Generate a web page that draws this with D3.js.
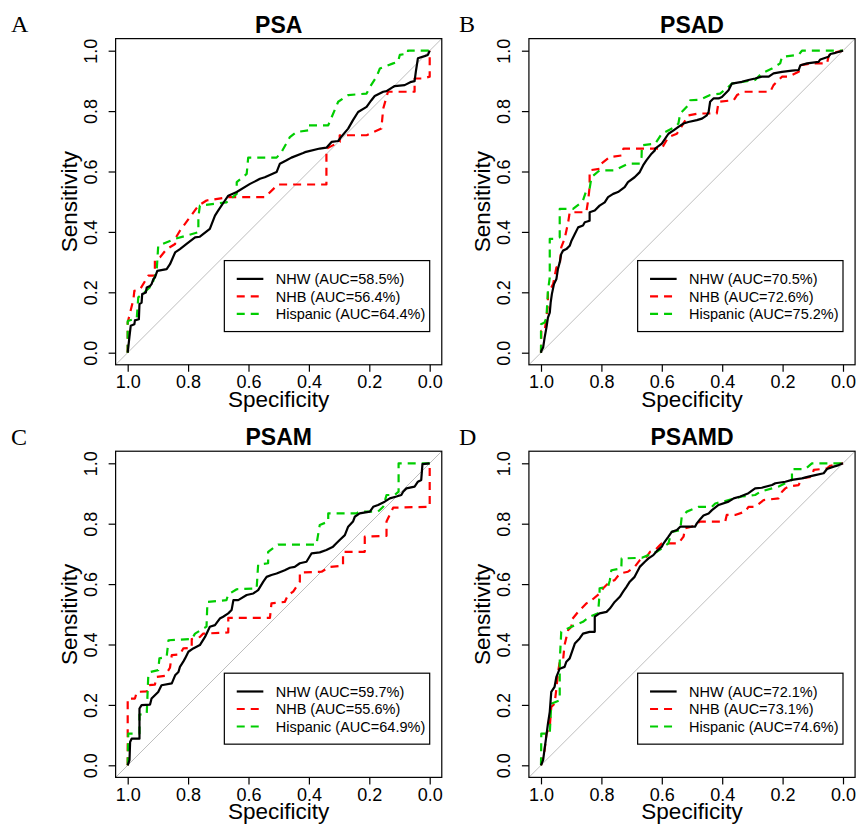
<!DOCTYPE html>
<html>
<head>
<meta charset="utf-8">
<script src="https://cdn.jsdelivr.net/npm/d3@7"></script>
<style>
body { margin: 0; background: #fff; }
svg text { font-family: "Liberation Sans", Arial, sans-serif; fill: #000; }
</style>
</head>
<body>
<script>
// Panel titles, letters, groups and AUCs
var titles = ["PSA", "PSAD", "PSAM", "PSAMD"];
var letters = ["A", "B", "C", "D"];
var groups = ["NHW", "NHB", "Hispanic"];
var aucPSA = [58.5, 56.4, 64.4];
var aucPSAD = [70.5, 72.6, 75.2];
var aucPSAM = [59.7, 55.6, 64.9];
var aucPSAMD = [72.1, 73.1, 74.6];
var tickValues = [0, 0.2, 0.4, 0.6, 0.8, 1.0];

// ROC points, [specificity, sensitivity]
var psaNHW = [[1,0],[0.994,0.055],[0.990,0.089],[0.978,0.094],[0.976,0.107],[0.963,0.111],[0.961,0.161],[0.954,0.166],[0.952,0.194],[0.940,0.199],[0.937,0.216],[0.926,0.221],[0.921,0.227],[0.915,0.244],[0.910,0.249],[0.902,0.271],[0.871,0.277],[0.860,0.293],[0.843,0.332],[0.827,0.343],[0.805,0.360],[0.777,0.382],[0.761,0.384],[0.728,0.410],[0.711,0.454],[0.700,0.471],[0.678,0.504],[0.667,0.520],[0.639,0.532],[0.595,0.559],[0.573,0.570],[0.562,0.576],[0.546,0.581],[0.507,0.598],[0.496,0.626],[0.474,0.637],[0.458,0.646],[0.419,0.661],[0.413,0.664],[0.364,0.676],[0.342,0.679],[0.325,0.698],[0.303,0.701],[0.292,0.716],[0.270,0.742],[0.254,0.770],[0.237,0.797],[0.209,0.814],[0.193,0.836],[0.182,0.850],[0.154,0.864],[0.143,0.866],[0.121,0.880],[0.116,0.883],[0.083,0.886],[0.061,0.897],[0.050,0.899],[0.046,0.930],[0.039,0.975],[0.017,0.982],[0.006,0.986],[0,1]];
var psaNHB = [[1,0],[1,0.100],[0.981,0.177],[0.978,0.205],[0.959,0.210],[0.932,0.255],[0.910,0.255],[0.910,0.305],[0.893,0.316],[0.871,0.343],[0.843,0.360],[0.843,0.377],[0.827,0.404],[0.766,0.487],[0.739,0.504],[0.667,0.515],[0.546,0.515],[0.502,0.557],[0.342,0.557],[0.342,0.676],[0.298,0.698],[0.298,0.720],[0.209,0.720],[0.160,0.742],[0.154,0.808],[0.138,0.864],[0.050,0.864],[0.050,0.908],[0.022,0.908],[0,0.914],[0,1]];
var psaHisp = [[1,0],[1,0.105],[0.970,0.114],[0.965,0.183],[0.921,0.221],[0.904,0.271],[0.899,0.354],[0.843,0.377],[0.766,0.399],[0.766,0.449],[0.761,0.487],[0.673,0.498],[0.639,0.526],[0.639,0.565],[0.606,0.592],[0.601,0.646],[0.507,0.646],[0.491,0.664],[0.469,0.703],[0.463,0.714],[0.441,0.731],[0.402,0.736],[0.402,0.753],[0.336,0.753],[0.325,0.779],[0.303,0.831],[0.270,0.853],[0.209,0.858],[0.198,0.880],[0.176,0.914],[0.165,0.941],[0.121,0.958],[0.105,0.963],[0.099,0.986],[0.072,0.991],[0.072,1],[0,1]];

var psadNHW = [[1,0],[0.999,0.006],[0.993,0.017],[0.988,0.050],[0.982,0.083],[0.977,0.116],[0.971,0.133],[0.968,0.166],[0.964,0.194],[0.957,0.227],[0.949,0.244],[0.944,0.277],[0.938,0.299],[0.933,0.327],[0.927,0.338],[0.916,0.343],[0.905,0.354],[0.899,0.371],[0.888,0.393],[0.877,0.415],[0.861,0.421],[0.855,0.432],[0.839,0.437],[0.839,0.465],[0.822,0.471],[0.806,0.487],[0.789,0.498],[0.778,0.515],[0.761,0.526],[0.745,0.532],[0.723,0.548],[0.712,0.565],[0.690,0.581],[0.673,0.598],[0.662,0.620],[0.651,0.637],[0.634,0.659],[0.623,0.670],[0.622,0.676],[0.600,0.692],[0.578,0.725],[0.561,0.736],[0.545,0.748],[0.528,0.759],[0.512,0.764],[0.484,0.770],[0.467,0.775],[0.451,0.786],[0.445,0.797],[0.440,0.831],[0.429,0.842],[0.412,0.842],[0.401,0.847],[0.379,0.869],[0.368,0.891],[0.335,0.897],[0.313,0.903],[0.291,0.908],[0.269,0.914],[0.246,0.914],[0.230,0.925],[0.202,0.930],[0.169,0.934],[0.147,0.936],[0.141,0.952],[0.119,0.958],[0.081,0.963],[0.075,0.971],[0.048,0.980],[0.042,0.989],[0.025,0.993],[0,1]];
var psadNHB = [[1,0],[0.999,0.072],[0.988,0.072],[0.982,0.116],[0.977,0.161],[0.977,0.205],[0.966,0.216],[0.960,0.227],[0.949,0.282],[0.938,0.288],[0.933,0.349],[0.922,0.377],[0.916,0.404],[0.910,0.432],[0.905,0.465],[0.850,0.465],[0.844,0.504],[0.839,0.548],[0.839,0.604],[0.806,0.609],[0.800,0.626],[0.772,0.648],[0.733,0.653],[0.727,0.676],[0.600,0.676],[0.594,0.687],[0.578,0.714],[0.550,0.725],[0.539,0.742],[0.512,0.786],[0.478,0.792],[0.418,0.792],[0.412,0.831],[0.362,0.836],[0.351,0.853],[0.329,0.864],[0.241,0.864],[0.230,0.886],[0.213,0.903],[0.202,0.914],[0.180,0.914],[0.147,0.930],[0.141,0.952],[0.103,0.958],[0.053,0.958],[0.048,0.980],[0.042,0.991],[0,1]];
var psadHisp = [[1,0],[1,0.094],[0.988,0.100],[0.982,0.116],[0.977,0.205],[0.971,0.249],[0.971,0.377],[0.949,0.377],[0.938,0.382],[0.938,0.476],[0.894,0.476],[0.872,0.493],[0.861,0.504],[0.850,0.537],[0.839,0.543],[0.833,0.581],[0.806,0.604],[0.756,0.604],[0.712,0.626],[0.673,0.626],[0.667,0.648],[0.666,0.687],[0.622,0.692],[0.600,0.725],[0.556,0.748],[0.545,0.759],[0.539,0.792],[0.512,0.820],[0.506,0.836],[0.473,0.838],[0.440,0.853],[0.407,0.858],[0.385,0.875],[0.368,0.891],[0.291,0.903],[0.269,0.925],[0.235,0.941],[0.208,0.958],[0.202,0.980],[0.147,0.986],[0.136,1],[0,1]];

var psamNHW = [[1,0],[0.994,0.017],[0.992,0.077],[0.987,0.088],[0.961,0.088],[0.961,0.188],[0.954,0.199],[0.926,0.201],[0.921,0.221],[0.910,0.232],[0.899,0.243],[0.888,0.265],[0.854,0.271],[0.843,0.298],[0.832,0.309],[0.827,0.326],[0.816,0.343],[0.810,0.354],[0.799,0.376],[0.783,0.387],[0.761,0.398],[0.744,0.425],[0.733,0.448],[0.728,0.459],[0.711,0.464],[0.695,0.486],[0.684,0.492],[0.667,0.503],[0.656,0.514],[0.650,0.547],[0.634,0.547],[0.606,0.564],[0.584,0.569],[0.568,0.580],[0.551,0.608],[0.540,0.624],[0.524,0.630],[0.507,0.635],[0.480,0.646],[0.463,0.654],[0.447,0.657],[0.430,0.669],[0.408,0.674],[0.391,0.702],[0.364,0.705],[0.342,0.713],[0.320,0.724],[0.309,0.735],[0.298,0.746],[0.281,0.762],[0.270,0.790],[0.254,0.807],[0.248,0.823],[0.232,0.834],[0.198,0.840],[0.187,0.856],[0.171,0.862],[0.149,0.873],[0.132,0.884],[0.110,0.890],[0.094,0.895],[0.088,0.906],[0.077,0.917],[0.050,0.923],[0.039,0.939],[0.028,0.945],[0.024,0.997],[0,1]];
var psamNHB = [[1,0],[1,0.221],[0.976,0.221],[0.970,0.243],[0.937,0.245],[0.932,0.265],[0.910,0.267],[0.904,0.293],[0.877,0.296],[0.860,0.323],[0.854,0.365],[0.827,0.367],[0.816,0.387],[0.788,0.389],[0.788,0.418],[0.761,0.425],[0.750,0.436],[0.667,0.440],[0.667,0.488],[0.529,0.488],[0.524,0.536],[0.480,0.541],[0.469,0.564],[0.452,0.575],[0.430,0.608],[0.430,0.638],[0.358,0.641],[0.331,0.657],[0.287,0.661],[0.287,0.707],[0.215,0.707],[0.215,0.757],[0.143,0.760],[0.143,0.807],[0.121,0.853],[0,0.856],[0,1]];
var psamHisp = [[1,0],[0.998,0.105],[0.961,0.105],[0.961,0.168],[0.937,0.171],[0.932,0.293],[0.926,0.309],[0.899,0.315],[0.895,0.354],[0.871,0.359],[0.865,0.414],[0.788,0.418],[0.777,0.436],[0.739,0.459],[0.736,0.541],[0.673,0.547],[0.667,0.566],[0.639,0.583],[0.573,0.586],[0.568,0.665],[0.535,0.669],[0.535,0.707],[0.502,0.731],[0.375,0.731],[0.364,0.796],[0.336,0.807],[0.336,0.834],[0.243,0.834],[0.232,0.840],[0.171,0.840],[0.154,0.856],[0.143,0.895],[0.116,0.895],[0.103,0.906],[0.103,1],[0,1]];

var psamdNHW = [[1,0],[0.993,0.017],[0.988,0.055],[0.982,0.099],[0.977,0.138],[0.971,0.177],[0.966,0.243],[0.955,0.260],[0.949,0.293],[0.938,0.320],[0.922,0.326],[0.916,0.343],[0.905,0.354],[0.888,0.403],[0.872,0.420],[0.861,0.436],[0.839,0.442],[0.822,0.442],[0.822,0.492],[0.806,0.503],[0.783,0.508],[0.772,0.519],[0.756,0.541],[0.739,0.558],[0.728,0.575],[0.717,0.591],[0.706,0.608],[0.690,0.624],[0.673,0.657],[0.656,0.674],[0.644,0.685],[0.628,0.696],[0.617,0.709],[0.600,0.724],[0.594,0.735],[0.578,0.757],[0.567,0.773],[0.550,0.779],[0.539,0.790],[0.490,0.790],[0.484,0.801],[0.473,0.815],[0.462,0.827],[0.445,0.834],[0.434,0.845],[0.412,0.862],[0.379,0.873],[0.362,0.884],[0.340,0.890],[0.313,0.901],[0.291,0.917],[0.269,0.919],[0.235,0.928],[0.224,0.934],[0.191,0.939],[0.169,0.945],[0.136,0.950],[0.114,0.956],[0.092,0.961],[0.064,0.967],[0.053,0.981],[0.031,0.989],[0.014,0.994],[0,1]];
var psamdNHB = [[1,0],[0.988,0.050],[0.982,0.105],[0.971,0.127],[0.966,0.193],[0.955,0.204],[0.949,0.254],[0.944,0.304],[0.938,0.343],[0.927,0.348],[0.922,0.398],[0.910,0.448],[0.899,0.459],[0.899,0.481],[0.877,0.508],[0.850,0.536],[0.839,0.541],[0.806,0.569],[0.794,0.586],[0.772,0.608],[0.756,0.613],[0.739,0.635],[0.712,0.641],[0.690,0.657],[0.672,0.680],[0.650,0.691],[0.639,0.707],[0.622,0.713],[0.606,0.729],[0.600,0.735],[0.545,0.735],[0.528,0.757],[0.523,0.785],[0.501,0.790],[0.484,0.801],[0.473,0.807],[0.390,0.807],[0.385,0.829],[0.357,0.829],[0.324,0.840],[0.313,0.856],[0.291,0.856],[0.263,0.878],[0.213,0.884],[0.202,0.906],[0.191,0.917],[0.180,0.923],[0.147,0.928],[0.136,0.950],[0.103,0.956],[0.097,0.978],[0.053,0.983],[0.042,0.992],[0,1]];
var psamdHisp = [[1,0],[0.999,0.105],[0.971,0.105],[0.966,0.204],[0.938,0.215],[0.938,0.343],[0.933,0.442],[0.899,0.459],[0.861,0.475],[0.839,0.492],[0.811,0.503],[0.806,0.569],[0.806,0.586],[0.778,0.591],[0.772,0.613],[0.767,0.646],[0.734,0.652],[0.733,0.685],[0.666,0.687],[0.644,0.696],[0.617,0.707],[0.600,0.718],[0.578,0.735],[0.572,0.757],[0.567,0.773],[0.539,0.779],[0.534,0.823],[0.517,0.840],[0.478,0.856],[0.434,0.856],[0.423,0.867],[0.379,0.878],[0.335,0.890],[0.291,0.895],[0.273,0.906],[0.235,0.917],[0.213,0.923],[0.169,0.945],[0.169,0.981],[0.125,0.981],[0.103,1],[0,1]];

var colors = ["#000000", "#ff0000", "#00cd00"];

// layout: plot origin (spec=1, sens=1) and letter x for each panel
var panels = [
  { title: titles[0], letter: letters[0], auc: aucPSA, curves: [psaNHW, psaNHB, psaHisp], left: 127.7, top: 50.7, letterX: 11 },
  { title: titles[1], letter: letters[1], auc: aucPSAD, curves: [psadNHW, psadNHB, psadHisp], left: 541, top: 50.7, letterX: 459 },
  { title: titles[2], letter: letters[2], auc: aucPSAM, curves: [psamNHW, psamNHB, psamHisp], left: 127.7, top: 463.3, letterX: 11 },
  { title: titles[3], letter: letters[3], auc: aucPSAMD, curves: [psamdNHW, psamdNHB, psamdHisp], left: 541, top: 463.3, letterX: 459 }
];

var size = 302;

var svg = d3.select("body")
  .append("svg")
  .attr("width", 858)
  .attr("height", 829)
  .style("background", "#fff");

var x = d3.scaleLinear().domain([1, 0]).range([0, size]);
var y = d3.scaleLinear().domain([0, 1]).range([size, 0]);

var line = d3.line()
  .x(function(d) { return x(d[0]); })
  .y(function(d) { return y(d[1]); });

panels.forEach(function(p) {
  var g = svg.append("g")
    .attr("transform", "translate(" + p.left + "," + p.top + ")");

  // panel letter
  svg.append("text")
    .attr("x", p.letterX)
    .attr("y", p.top - 18.5)
    .style("font-family", "'Liberation Serif', 'Times New Roman', serif")
    .style("font-size", "24px")
    .text(p.letter);

  // title
  g.append("text")
    .attr("x", x(0.5))
    .attr("y", y(1.04) - 6)
    .attr("text-anchor", "middle")
    .style("font-size", "23px")
    .style("font-weight", "bold")
    .text(p.title);

  // chance line
  g.append("line")
    .attr("x1", x(1.04)).attr("y1", y(-0.04))
    .attr("x2", x(-0.04)).attr("y2", y(1.04))
    .attr("stroke", "#bebebe")
    .attr("stroke-width", 1);

  // curves, NHW drawn last so it sits on top
  [1, 2, 0].forEach(function(i) {
    g.append("path")
      .attr("d", line(p.curves[i]))
      .attr("fill", "none")
      .attr("stroke", colors[i])
      .attr("stroke-width", 2.2)
      .attr("stroke-linejoin", "round")
      .attr("stroke-dasharray", i === 0 ? null : "8,6");
  });

  // box
  g.append("rect")
    .attr("x", x(1.04))
    .attr("y", y(1.04))
    .attr("width", x(-0.04) - x(1.04))
    .attr("height", y(-0.04) - y(1.04))
    .attr("fill", "none")
    .attr("stroke", "#000")
    .attr("stroke-width", 1.2);

  // x axis
  var xAxis = g.append("g")
    .attr("transform", "translate(0," + y(-0.04) + ")")
    .call(d3.axisBottom(x).tickValues(tickValues).tickSize(7).tickFormat(d3.format(".1f")));
  xAxis.select(".domain").remove();
  xAxis.selectAll("line").attr("stroke-width", 1.2);
  xAxis.selectAll("text")
    .attr("y", 23.5)
    .attr("dy", null)
    .style("font-size", "18px")
    .style("font-family", "'Liberation Sans', Arial, sans-serif")
    .attr("fill", "#000");

  // y axis
  var yAxis = g.append("g")
    .attr("transform", "translate(" + x(1.04) + ",0)")
    .call(d3.axisLeft(y).tickValues(tickValues).tickSize(7).tickFormat(d3.format(".1f")));
  yAxis.select(".domain").remove();
  yAxis.selectAll("line").attr("stroke-width", 1.2);
  yAxis.selectAll("text")
    .attr("x", 0)
    .attr("y", -18.6)
    .attr("dy", null)
    .attr("transform", "rotate(-90)")
    .attr("text-anchor", "middle")
    .style("font-size", "18px")
    .style("font-family", "'Liberation Sans', Arial, sans-serif")
    .attr("fill", "#000");

  // axis titles
  g.append("text")
    .attr("x", x(0.5))
    .attr("y", y(-0.04) + 42)
    .attr("text-anchor", "middle")
    .style("font-size", "22.5px")
    .text("Specificity");

  g.append("text")
    .attr("transform", "translate(" + (x(1.04) - 39) + "," + y(0.5) + ") rotate(-90)")
    .attr("text-anchor", "middle")
    .style("font-size", "22.5px")
    .text("Sensitivity");

  // legend
  var lx = x(0.68), ly = y(0.305);
  var legend = g.append("g").attr("transform", "translate(" + lx + "," + ly + ")");
  legend.append("rect")
    .attr("width", x(0) - lx)
    .attr("height", y(0.07) - ly)
    .attr("fill", "#fff")
    .attr("stroke", "#000")
    .attr("stroke-width", 1.2);
  groups.forEach(function(name, i) {
    var ry = 18.3 + i * 17.5;
    legend.append("line")
      .attr("x1", 12.4).attr("x2", 39)
      .attr("y1", ry).attr("y2", ry)
      .attr("stroke", colors[i])
      .attr("stroke-width", 2.2)
      .attr("stroke-dasharray", i === 0 ? null : "8,6");
    legend.append("text")
      .attr("x", 51.4)
      .attr("y", ry)
      .attr("dy", "0.36em")
      .style("font-size", "14.5px")
      .text(name + " (AUC=" + p.auc[i].toFixed(1) + "%)");
  });
});
</script>
</body>
</html>
